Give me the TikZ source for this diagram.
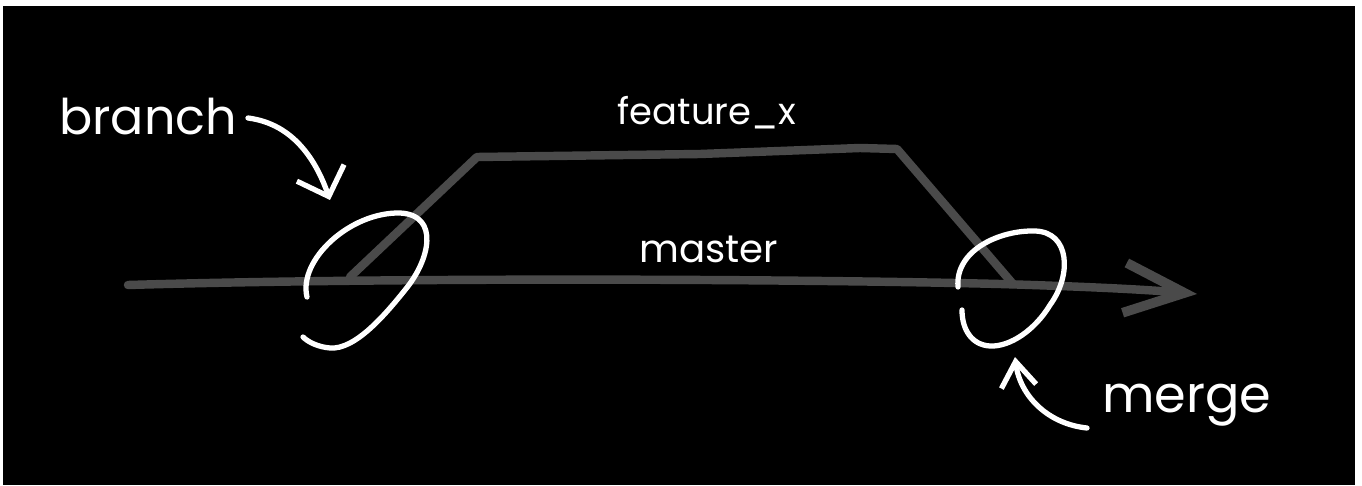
\documentclass[tikz,border=0pt]{standalone}
\usepackage{fontspec}
\setmainfont{Poppins}
\usetikzlibrary{arrows.meta,positioning,calc}

\definecolor{boardblack}{RGB}{0,0,0}
\definecolor{chalkgrey}{RGB}{74,74,74}

\begin{document}
\begin{tikzpicture}[x=0.02cm, y=-0.02cm,
    gitline/.style={chalkgrey, line width=4.8pt, line cap=round, line join=round},
    chalk/.style={white, line width=3pt, line cap=round, line join=round},
    note/.style={white, inner sep=0pt, anchor=base},
    pointer/.style={chalk, -{Straight Barb[length=5mm, width=10mm, line width=3pt]}}]

% Board, with its thin white margin
\useasboundingbox (0,0) rectangle (1362,486);
\fill[white] (0,0) rectangle (1362,486);
\fill[boardblack] (3,6) rectangle (1355,485);

% Where the lines start, split and join again
\coordinate (masterstart) at (128,285);
\coordinate (mastertip)   at (1197,294);
\coordinate (branchcommit) at (350,277);
\coordinate (mergecommit)  at (1013,284);

% Master line with its arrow
\draw[gitline, -{Straight Barb[length=12mm, width=10mm, line width=5.5pt]}]
    (masterstart) .. controls (400,277) and (800,279) .. (1000,284)
    .. controls (1100,287) and (1150,290) .. (mastertip);

% Feature branch — up, across, back down
\draw[gitline] (branchcommit) -- (477,157) -- (700,154) -- (860,148)
    -- (897,149) -- (mergecommit);

% Labels
\node[note, font=\fontsize{28}{30}\selectfont] (branch)  at (148,135) {branch};
\node[note, font=\fontsize{21}{24}\selectfont] (feature) at (707,125) {feature\_x};
\node[note, font=\fontsize{22}{25}\selectfont] (master)  at (709,262) {master};
\node[note, font=\fontsize{29}{32}\selectfont] (merge)   at (1187,412) {merge};

% Loop round the branch point
\draw[chalk] (307,297) .. controls (298,260) and (350,212) .. (400,213)
    .. controls (440,215) and (430,260) .. (405,290)
    .. controls (385,315) and (355,350) .. (330,348)
    .. controls (318,347) and (308,342) .. (303,337);

% Loop round the merge point
\draw[chalk] (958,287) .. controls (955,250) and (1000,230) .. (1035,231)
    .. controls (1070,232) and (1072,275) .. (1050,305)
    .. controls (1035,330) and (1010,347) .. (990,346)
    .. controls (972,345) and (962,330) .. (962,310);

% Pointers from the labels to the loops
\coordinate (branchfrom) at (248,118);
\coordinate (branchto)   at (330,200);
\draw[pointer] (branchfrom) .. controls (295,124) and (317,163) .. (branchto);

\coordinate (mergefrom) at (1087,428);
\coordinate (mergeto)   at (1015,357);
\draw[pointer, -{Straight Barb[length=5mm, width=7mm, line width=3pt]}]
    (mergefrom) .. controls (1048,424) and (1020,396) .. (mergeto);

\end{tikzpicture}
\end{document}
